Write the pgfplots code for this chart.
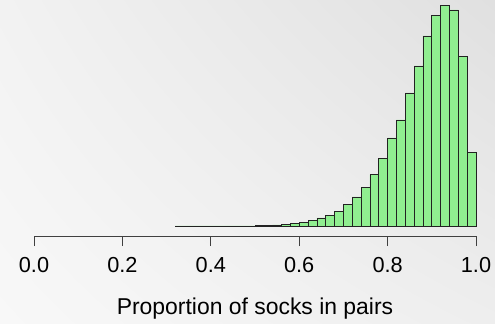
\documentclass[border=0pt]{standalone}
\usepackage{pgfplots}
\pgfplotsset{compat=1.18}
\usetikzlibrary{shadings}
\usepackage{fontspec}
\setmainfont{Liberation Sans}
\definecolor{lightgreen}{HTML}{90EE90}
\definecolor{barline}{HTML}{222222}
\definecolor{bgll}{HTML}{F8F8F8}
\definecolor{bgul}{HTML}{F2F2F2}
\definecolor{bglr}{HTML}{EEEEEE}
\definecolor{bgur}{HTML}{E0E0E0}
\newcommand{\tickfont}{\fontsize{21.8}{26}\selectfont}
\newcommand{\labelfont}{\fontsize{23}{27}\selectfont}

\begin{document}
\begin{tikzpicture}[x=1bp,y=1bp]
% soft grey backdrop, lighter towards the lower left
\shade[lower left=bgll, upper left=bgul, lower right=bglr, upper right=bgur] (0,0) rectangle (495,323);
\begin{axis}[
  at={(34bp,87bp)}, anchor=south west,
  scale only axis, width=442bp, height=236bp,
  xmin=0, xmax=1, ymin=-10, ymax=226,
  axis x line*=bottom, axis y line=none,
  x axis line style={-, black!75, line width=0.8bp},
  xtick={0,0.2,0.4,0.6,0.8,1.0},
  xticklabels={0.0,0.2,0.4,0.6,0.8,1.0},
  tick align=outside, major tick length=10bp,
  x tick style={black!75, line width=0.8bp},
  /pgf/number format/assume math mode=true,
  xticklabel style={font=\tickfont, anchor=base, yshift=-26bp},
  xlabel={Proportion of socks in pairs},
  xlabel style={font=\labelfont, at={(axis description cs:0.5,-0.3347)}, anchor=base},
  clip=false,
]
\addplot[ybar interval, fill=lightgreen, draw=barline, line width=0.7bp] coordinates {
  (0.32,0.1) (0.34,0.1) (0.36,0.1) (0.38,0.1) (0.40,0.1) (0.42,0.1)
  (0.44,0.1) (0.46,0.1) (0.48,0.1) (0.50,0.5) (0.52,0.5) (0.54,1.0)
  (0.56,1.7) (0.58,2.5) (0.60,3.3) (0.62,5.5) (0.64,8.0) (0.66,10.3)
  (0.68,14.7) (0.70,21.3) (0.72,29.0) (0.74,38.3) (0.76,51.3) (0.78,67.3)
  (0.80,88.0) (0.82,106.0) (0.84,133.0) (0.86,160.0) (0.88,190.0) (0.90,210.7)
  (0.92,220.3) (0.94,216.0) (0.96,169.7) (0.98,73.7) (1.00,0)
};
\end{axis}
\end{tikzpicture}
\end{document}
